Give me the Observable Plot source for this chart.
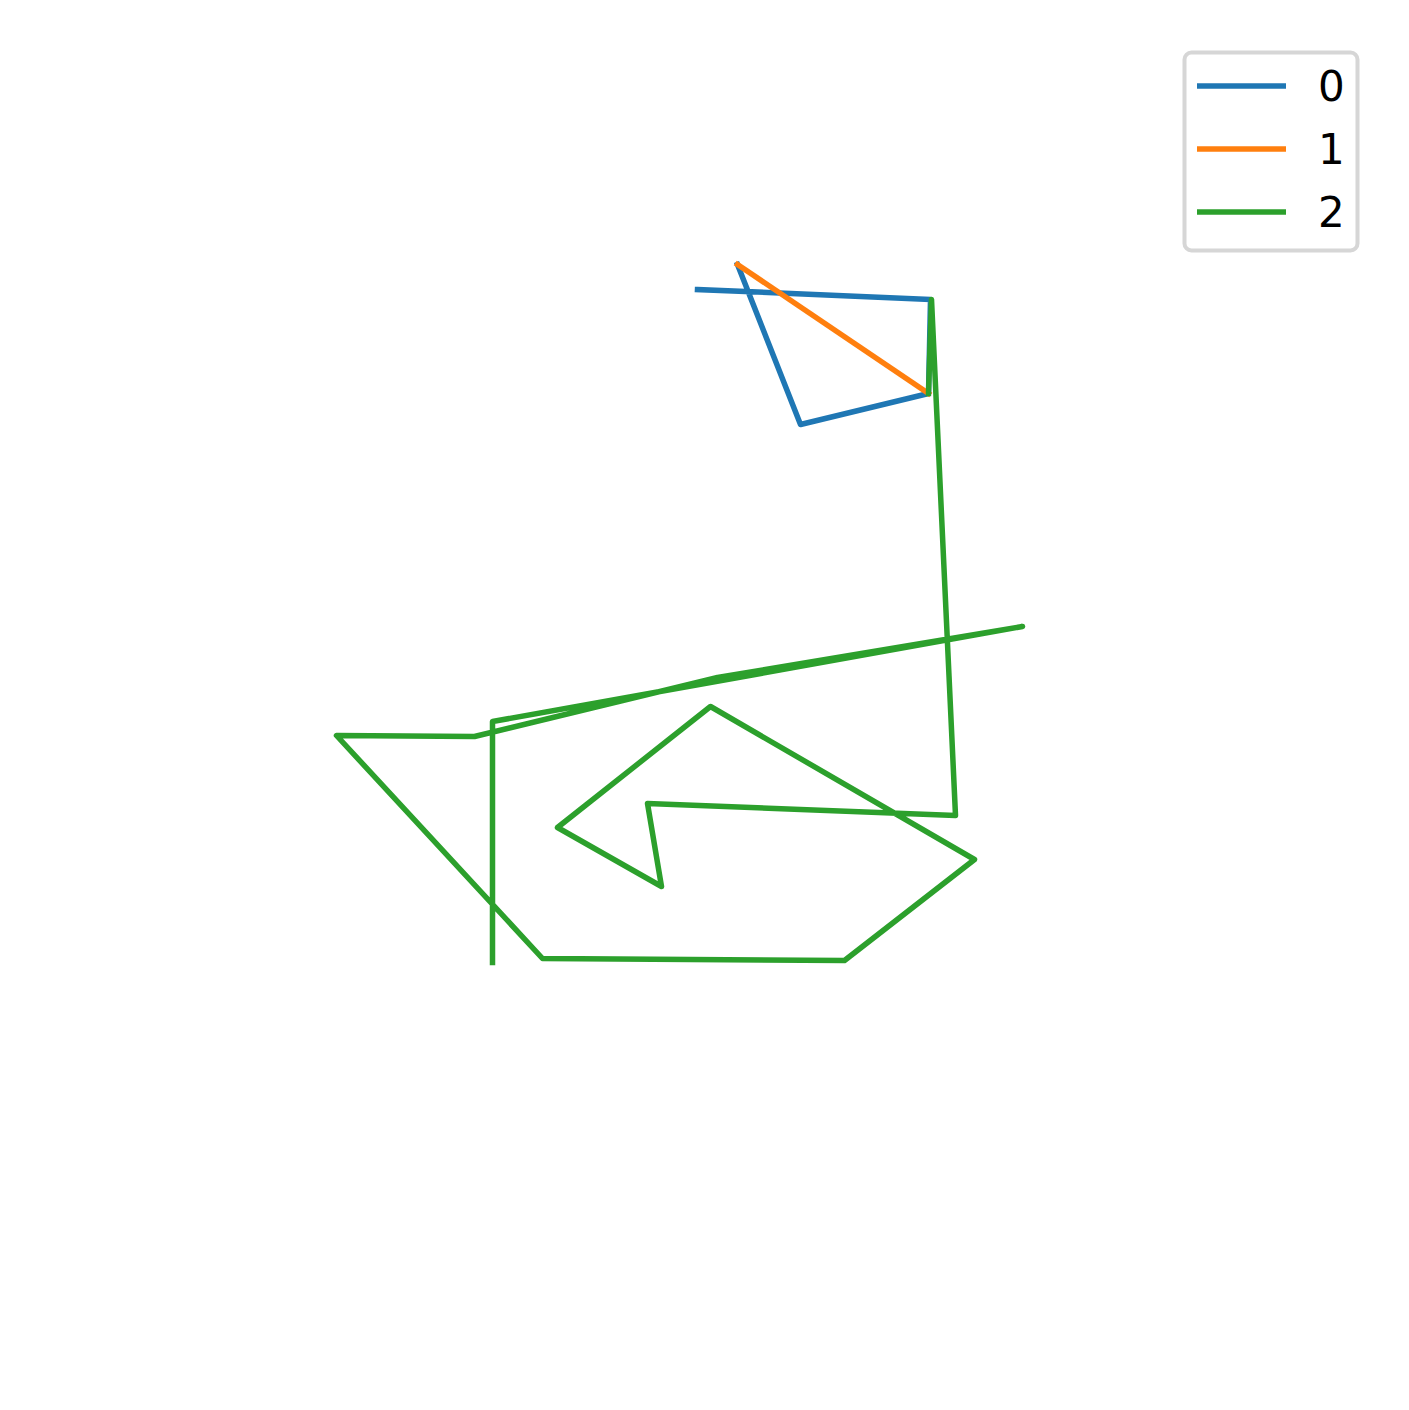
<!DOCTYPE html>
<html>
<head>
<meta charset="utf-8">
<script src="https://cdn.jsdelivr.net/npm/d3@7"></script>
<script src="https://cdn.jsdelivr.net/npm/@observablehq/plot@0.6"></script>
<style>
  body { margin: 0; background: #fff; font-family: "DejaVu Sans", sans-serif; }
  #chart { position: relative; width: 1409px; height: 1410px; }
  #legend { position: absolute; left: 0; top: 0; }
</style>
</head>
<body>
<div id="chart"></div>
<script>
// series (same units for x and y, y grows downward)
const series = ["0", "1", "2"]
const colors = ["#1f77b4", "#ff7f0e", "#2ca02c"]

const x0 = [697, 930, 928, 800, 737]
const y0 = [289, 299, 393, 424, 264]

const x1 = [737, 928]
const y1 = [264, 393]

const x2 = [928, 931, 955, 647, 661, 557, 710, 974, 844, 542, 336, 474, 717, 1022, 492, 492]
const y2 = [393, 299, 815, 803, 886, 827, 706, 859, 960, 958, 735, 736, 677, 626, 721, 962]

const xs = [x0, x1, x2]
const ys = [y0, y1, y2]

let rows = []
series.forEach((s, i) => {
  xs[i].forEach((x, j) => rows.push({serie: s, x: x, y: ys[i][j]}))
})

let chart = Plot.plot({
  width: 1409,
  height: 1410,
  margin: 0,
  x: {domain: [0, 1409], axis: null},
  y: {domain: [1410, 0], axis: null},
  color: {domain: series, range: colors},
  marks: [
    Plot.line(rows, {
      x: 'x',
      y: 'y',
      z: 'serie',
      stroke: 'serie',
      strokeWidth: 5.5,
      strokeLinejoin: 'round',
      strokeLinecap: 'square'
    })
  ]
})

d3.select('#chart').append(() => chart)

// legend box, top right
const leg = d3.select('#chart').append('svg')
  .attr('id', 'legend')
  .attr('width', 1409)
  .attr('height', 300)

leg.append('rect')
  .attr('x', 1184.5).attr('y', 52.5)
  .attr('width', 173).attr('height', 198)
  .attr('rx', 7)
  .attr('fill', '#fff')
  .attr('stroke', '#d6d6d6')
  .attr('stroke-width', 4)

series.forEach((s, i) => {
  const yy = 86 + i * 63
  leg.append('line')
    .attr('x1', 1197).attr('x2', 1286)
    .attr('y1', yy).attr('y2', yy)
    .attr('stroke', colors[i])
    .attr('stroke-width', 5.5)
  leg.append('text')
    .attr('x', 1318).attr('y', yy + 15)
    .attr('font-size', 42)
    .attr('font-family', '"DejaVu Sans", sans-serif')
    .attr('fill', '#000')
    .text(s)
})
</script>
</body>
</html>
